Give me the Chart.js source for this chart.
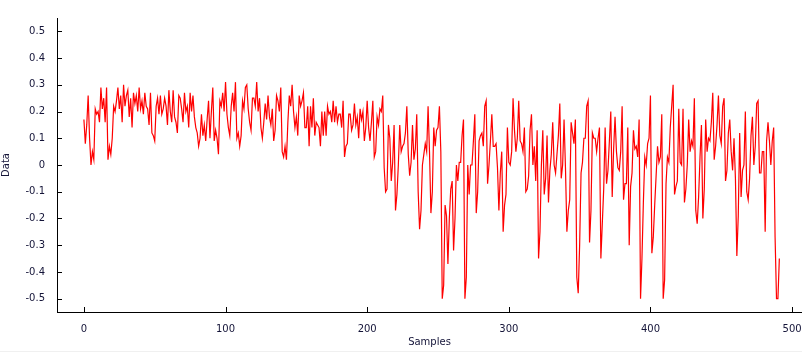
<!DOCTYPE html>
<html>
<head>
<meta charset="utf-8">
<script src="https://cdn.jsdelivr.net/npm/chart.js@4/dist/chart.umd.min.js"></script>
<style>
  html, body { margin: 0; padding: 0; background: #f0f0f0; }
  canvas { display: block; background: #fff; }
</style>
</head>
<body>
<canvas id="chart" width="802" height="351"></canvas>
<script>
// sample values (index = sample number)
const values = [
  0.17, 0.08, 0.15, 0.26, 0.10, 0.00, 0.05, 0.02, 0.21, 0.19,
  0.20, 0.16, 0.29, 0.21, 0.25, 0.16, 0.29, 0.02, 0.07, 0.04,
  0.10, 0.22, 0.20, 0.24, 0.29, 0.21, 0.26, 0.16, 0.30, 0.22,
  0.26, 0.28, 0.18, 0.25, 0.14, 0.27, 0.23, 0.26, 0.20, 0.29,
  0.21, 0.24, 0.19, 0.27, 0.22, 0.21, 0.15, 0.27, 0.12, 0.11,
  0.09, 0.22, 0.25, 0.19, 0.26, 0.19, 0.21, 0.25, 0.22, 0.15,
  0.28, 0.20, 0.16, 0.28, 0.18, 0.16, 0.12, 0.26, 0.25, 0.21,
  0.16, 0.27, 0.20, 0.22, 0.14, 0.27, 0.20, 0.26, 0.18, 0.14,
  0.12, 0.07, 0.10, 0.19, 0.11, 0.15, 0.09, 0.17, 0.24, 0.10,
  0.20, 0.29, 0.09, 0.13, 0.10, 0.04, 0.24, 0.22, 0.27, 0.20,
  0.31, 0.19, 0.14, 0.11, 0.22, 0.27, 0.20, 0.31, 0.10, 0.12,
  0.07, 0.11, 0.24, 0.21, 0.29, 0.30, 0.21, 0.16, 0.13, 0.25,
  0.25, 0.22, 0.31, 0.20, 0.25, 0.14, 0.10, 0.16, 0.23, 0.17,
  0.26, 0.18, 0.15, 0.21, 0.09, 0.13, 0.26, 0.24, 0.20, 0.29,
  0.05, 0.03, 0.07, 0.02, 0.16, 0.26, 0.22, 0.30, 0.20, 0.14,
  0.18, 0.11, 0.26, 0.22, 0.24, 0.27, 0.14, 0.14, 0.22, 0.07,
  0.22, 0.14, 0.25, 0.11, 0.16, 0.15, 0.14, 0.07, 0.20, 0.11,
  0.20, 0.11, 0.22, 0.19, 0.20, 0.16, 0.24, 0.16, 0.22, 0.16,
  0.19, 0.19, 0.14, 0.24, 0.03, 0.07, 0.08, 0.19, 0.19, 0.13,
  0.15, 0.23, 0.15, 0.18, 0.10, 0.21, 0.17, 0.20, 0.09, 0.14,
  0.24, 0.14, 0.09, 0.16, 0.24, 0.03, 0.05, 0.18, 0.15, 0.21,
  0.20, 0.26, -0.01, -0.10, -0.09, 0.15, 0.10, -0.06, 0.01, 0.15,
  -0.17, -0.11, 0.00, 0.15, 0.05, 0.07, 0.08, 0.12, 0.22, 0.04,
  -0.04, 0.01, 0.15, 0.02, 0.06, 0.19, -0.10, -0.24, -0.17, 0.00,
  0.04, 0.08, 0.05, 0.22, 0.05, -0.18, -0.10, 0.14, 0.07, 0.13,
  0.14, 0.22, 0.05, -0.50, -0.45, -0.15, -0.19, -0.37, -0.20, -0.09,
  -0.06, -0.32, -0.20, 0.00, -0.06, 0.01, 0.01, 0.11, 0.17, -0.50,
  -0.42, 0.00, -0.11, 0.00, 0.00, 0.09, 0.19, -0.18, -0.10, 0.09,
  0.11, 0.12, 0.07, 0.22, 0.24, -0.07, 0.00, 0.09, 0.19, 0.07,
  0.07, 0.08, -0.01, -0.17, -0.03, 0.05, -0.25, -0.15, -0.11, 0.14,
  0.01, 0.00, 0.05, 0.25, 0.13, 0.05, 0.10, 0.24, 0.09, 0.08,
  0.05, 0.14, -0.10, -0.09, -0.04, 0.13, 0.19, 0.00, 0.07, -0.06,
  0.13, -0.35, -0.25, 0.00, 0.13, -0.11, -0.05, 0.11, -0.14, -0.02,
  0.04, 0.16, 0.00, -0.03, 0.04, 0.11, 0.23, -0.05, 0.00, 0.17,
  -0.01, -0.25, -0.17, -0.13, 0.16, 0.12, 0.08, 0.17, -0.42, -0.48,
  -0.30, -0.03, 0.01, 0.10, 0.10, 0.22, 0.24, -0.29, -0.17, 0.12,
  0.10, 0.10, 0.05, 0.10, 0.14, -0.35, -0.22, -0.09, 0.14, -0.07,
  -0.02, 0.09, 0.20, -0.12, 0.06, 0.18, 0.05, -0.01, -0.02, 0.05,
  0.22, -0.13, -0.07, -0.07, 0.14, -0.30, -0.08, -0.03, 0.13, 0.06,
  0.07, 0.03, 0.17, -0.50, -0.35, -0.14, 0.03, 0.00, 0.08, 0.10,
  0.26, -0.33, -0.27, -0.15, -0.04, 0.07, 0.01, 0.03, 0.19, -0.50,
  -0.43, -0.07, 0.03, 0.01, 0.14, 0.22, 0.30, -0.11, -0.08, -0.06,
  0.21, 0.01, 0.00, 0.21, -0.14, -0.09, 0.00, 0.17, 0.05, 0.09,
  0.07, 0.25, -0.17, -0.22, -0.12, 0.03, 0.15, -0.20, -0.09, 0.17,
  0.05, 0.10, 0.09, 0.16, 0.27, 0.02, 0.07, 0.15, 0.26, 0.11,
  0.08, 0.22, 0.25, -0.06, -0.02, 0.12, 0.17, 0.05, -0.02, 0.10,
  -0.05, -0.34, -0.19, 0.12, -0.12, -0.02, 0.00, 0.20, -0.10, -0.13,
  -0.05, 0.11, 0.18, 0.00, 0.07, 0.23, 0.24, -0.03, -0.03, 0.05,
  0.05, -0.25, 0.09, 0.16, 0.09, 0.00, 0.09, 0.14, -0.27, -0.50,
  -0.50, -0.35
]

const xTicks = [0, 100, 200, 300, 400, 500]
const yTicks = [-0.5, -0.4, -0.3, -0.2, -0.1, 0, 0.1, 0.2, 0.3, 0.4, 0.5]
const yTickLabels = ['-0.5', '-0.4', '-0.3', '-0.2', '-0.1', '0', '0.1', '0.2', '0.3', '0.4', '0.5']

const font = { family: 'DejaVu Sans', size: 10 }
const textColor = '#141438'

// tick marks point into the plot, so draw them by hand
const innerTicks = {
  id: 'innerTicks',
  afterDraw (chart) {
    const { ctx, chartArea, scales } = chart
    ctx.save()
    ctx.strokeStyle = '#000'
    ctx.lineWidth = 1
    ctx.beginPath()
    for (const v of yTicks) {
      const y = Math.round(scales.y.getPixelForValue(v)) + 0.5
      ctx.moveTo(chartArea.left, y)
      ctx.lineTo(chartArea.left + 5, y)
    }
    for (const v of xTicks) {
      const x = Math.round(scales.x.getPixelForValue(v)) + 0.5
      ctx.moveTo(x, chartArea.bottom)
      ctx.lineTo(x, chartArea.bottom - 5)
    }
    ctx.stroke()
    ctx.restore()
  }
}

const ctx = document.getElementById('chart').getContext('2d')
const chart = new Chart(ctx, {
  type: 'line',
  data: {
    datasets: [
      {
        data: values.map((v, i) => ({ x: i, y: v })),
        borderColor: '#ff0000',
        borderWidth: 1.2,
        pointRadius: 0,
        tension: 0,
        fill: false
      }
    ]
  },
  options: {
    responsive: false,
    animation: false,
    layout: { padding: { top: 18, right: 0, left: 0, bottom: 0 } },
    plugins: {
      legend: { display: false },
      tooltip: { enabled: false }
    },
    scales: {
      x: {
        type: 'linear',
        min: -19,
        max: 507,
        afterBuildTicks: (s) => { s.ticks = xTicks.map((v) => ({ value: v })) },
        afterFit: (s) => { s.height = 39; s.paddingLeft = 0; s.paddingRight = 0 },
        ticks: {
          font,
          color: textColor,
          padding: 3,
          maxRotation: 0,
          autoSkip: false,
          callback: (v) => String(v)
        },
        grid: { display: false },
        border: { display: true, color: '#000', width: 1 },
        title: {
          display: true,
          text: 'Samples',
          font,
          color: textColor,
          padding: { top: 0, bottom: 3 }
        }
      },
      y: {
        min: -0.55,
        max: 0.55,
        afterBuildTicks: (s) => { s.ticks = yTicks.map((v) => ({ value: v })) },
        afterFit: (s) => { s.width = 57; s.paddingTop = 0; s.paddingBottom = 0 },
        ticks: {
          font,
          color: textColor,
          padding: 4,
          autoSkip: false,
          callback: (v) => yTickLabels[yTicks.findIndex((t) => Math.abs(t - v) < 1e-9)]
        },
        grid: { display: false },
        border: { display: true, color: '#000', width: 1 },
        title: {
          display: true,
          text: 'Data',
          font,
          color: textColor,
          padding: { top: 0, bottom: 0 }
        }
      }
    }
  },
  plugins: [innerTicks]
})
</script>
</body>
</html>
